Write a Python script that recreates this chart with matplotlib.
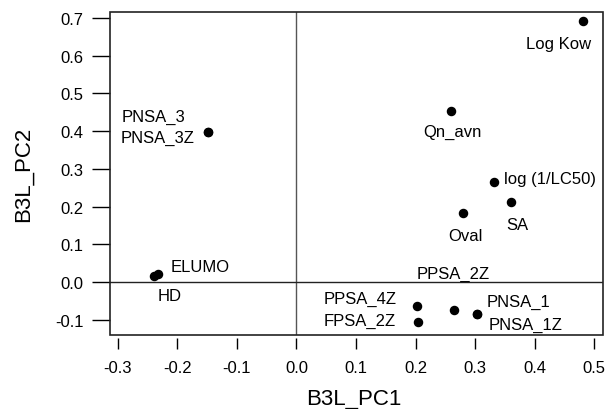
import matplotlib.pyplot as plt
from matplotlib.patches import Rectangle

plt.rcParams['font.family'] = ['Liberation Sans', 'DejaVu Sans']

# loadings
names = ['Log Kow', 'Qn_avn', 'PNSA_3', 'PNSA_3Z', 'log (1/LC50)', 'SA', 'Oval',
         'ELUMO', 'HD', 'PPSA_4Z', 'FPSA_2Z', 'PPSA_2Z', 'PNSA_1', 'PNSA_1Z']
pc1 = [0.482, 0.259, -0.148, -0.148, 0.332, 0.360, 0.280,
       -0.232, -0.239, 0.202, 0.204, 0.265, 0.303, 0.303]
pc2 = [0.693, 0.454, 0.397, 0.397, 0.266, 0.211, 0.182,
       0.021, 0.015, -0.063, -0.107, -0.074, -0.086, -0.086]

xticks = [-0.3, -0.2, -0.1, 0.0, 0.1, 0.2, 0.3, 0.4, 0.5]
yticks = [-0.1, 0.0, 0.1, 0.2, 0.3, 0.4, 0.5, 0.6, 0.7]

# label placement: offset in pixels from the dot, horizontal alignment
label_pos = {
    'Log Kow': (-25, -23, 'center'),
    'Qn_avn': (2, -21, 'center'),
    'PNSA_3': (-87, 16, 'left'),
    'PNSA_3Z': (-88, -5, 'left'),
    'log (1/LC50)': (10, 3, 'left'),
    'SA': (7, -22, 'center'),
    'Oval': (2, -22, 'center'),
    'ELUMO': (12, 8, 'left'),
    'HD': (15, -19, 'center'),
    'PPSA_4Z': (-20, 7, 'right'),
    'FPSA_2Z': (-22, 2, 'right'),
    'PPSA_2Z': (-1, 36, 'center'),
    'PNSA_1': (10, 13, 'left'),
    'PNSA_1Z': (12, -10, 'left'),
}

fig = plt.figure(figsize=(6.09, 4.10), dpi=100)
ax = fig.add_axes([0.1806, 0.1805, 0.8091, 0.7878])

ax.axvline(0, color='#555555', lw=1, zorder=1)
ax.axhline(0, color='#222222', lw=1, zorder=1)
ax.scatter(pc1, pc2, s=34, color='black', zorder=3)

for n, x, y in zip(names, pc1, pc2):
    dx, dy, ha = label_pos[n]
    ax.annotate(n, (x, y), xytext=(dx, dy), textcoords='offset pixels',
                ha=ha, va='center', fontsize=12)

ax.set_xlim(-0.3134, 0.5146)
ax.set_ylim(-0.1406, 0.716)
ax.set_xticks(xticks)
ax.set_yticks(yticks)
ax.set_xticklabels([f'{t:.1f}' for t in xticks])
ax.set_yticklabels([f'{t:.1f}' for t in yticks])

for s in ax.spines.values():
    s.set_visible(False)
ax.spines['bottom'].set_position(('outward', 2))
ax.add_patch(Rectangle((0, 0), 1, 1, transform=ax.transAxes, fill=False,
                       lw=1.2, edgecolor='#222222', clip_on=False, zorder=4))

ax.tick_params(axis='x', length=8, width=1, pad=8, labelsize=12)
ax.tick_params(axis='y', length=13, width=1, pad=6, labelsize=12)

ax.set_xlabel('B3L_PC1', fontsize=16)
ax.set_ylabel('B3L_PC2', fontsize=16)
ax.xaxis.set_label_coords(0.495, -0.163)
ax.yaxis.set_label_coords(-0.155, 0.5)

fig.savefig('out.png', dpi=100)
